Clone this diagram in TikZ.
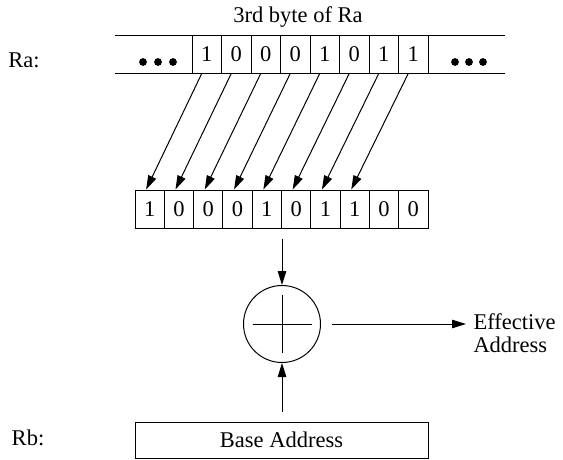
\documentclass[tikz,border=0pt]{standalone}
\usepackage{fontspec}
\setmainfont{Liberation Serif}
\usetikzlibrary{arrows.meta}
\begin{document}
\begin{tikzpicture}[x=1pt,y=1pt,line width=1pt,
  font=\fontsize{22.5}{23}\selectfont,
  ucell/.style={draw,minimum width=29.5pt,minimum height=38pt,inner sep=0pt},
  lcell/.style={draw,minimum width=29.3pt,minimum height=38pt,inner sep=0pt},
  lbl/.style={inner sep=0pt},
  arr/.style={-{Triangle[length=14pt,width=8.5pt]}},
  dot/.style={fill=black}]
\useasboundingbox (0,0) rectangle (563,-459);
% title
\node[lbl] (title) at (298,-17) {3rd byte of Ra};
% Ra register
\node[lbl] (ra) at (24,-60.5) {Ra:};
\draw (115,-35) -- (505,-35);
\draw (115,-73) -- (505,-73);
\foreach \b [count=\i from 0] in {1,0,0,0,1,0,1,1}
  \node[ucell] (u\i) at ({192+29.5*(\i+0.5)},-54) {\b};
\foreach \x in {143,158,173,455,469,483}
  \fill[dot] (\x,-62) circle (3.9);
% shifted register
\foreach \b [count=\i from 0] in {1,0,0,0,1,0,1,1,0,0}
  \node[lcell] (l\i) at ({135+29.3*(\i+0.5)},-209) {\b};
% connectors
\foreach \i in {0,...,7}
  \draw[arr] ([xshift=-5pt]u\i.south) -- ([xshift=-3.5pt]l\i.north);
% adder
\node[circle,draw,minimum size=77pt,inner sep=0pt] (circ) at (282,-324) {};
\draw (circ.center) ++(-29.5,0) -- ++(59,0);
\draw (circ.center) ++(0,-29) -- ++(0,58);
\draw[arr] ([yshift=-10pt]l4.south east) -- (circ.north);
% output
\node[lbl,align=left,anchor=north west] (eff) at (473,-313) {Effective\\Address};
\draw[arr] ([xshift=11pt]circ.east) -- ([xshift=-7pt]circ.east -| eff.west);
% base register
\node[lbl] (rb) at (28,-438) {Rb:};
\node[draw,minimum width=293pt,minimum height=36pt,inner sep=0pt] (base) at (281.5,-440) {Base Address};
\draw[arr] ([yshift=10pt]base.north -| circ.south) -- (circ.south);
\end{tikzpicture}
\end{document}
